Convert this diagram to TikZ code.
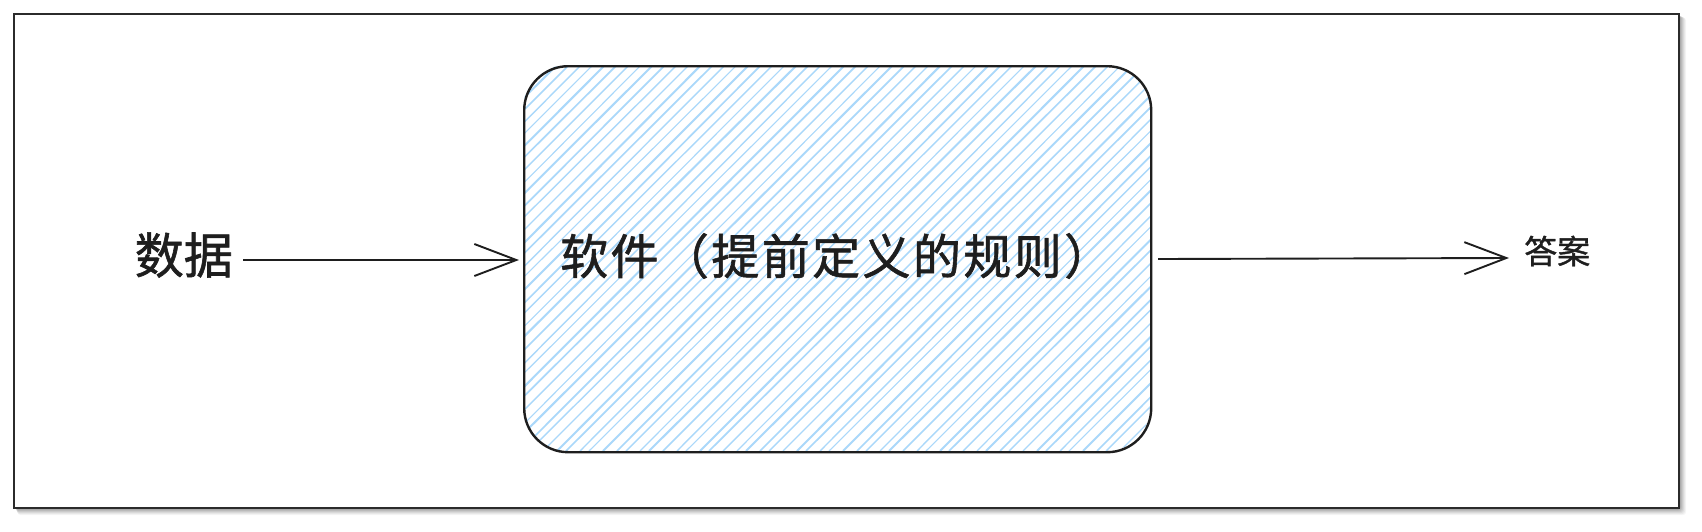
\documentclass[tikz,border=0pt]{standalone}
\usepackage{fontspec}
\newfontfamily\cjk[FakeBold=1.2]{Noto Sans CJK SC}
\newfontfamily\cjkwide[FakeBold=1.2,LetterSpace=5]{Noto Sans CJK SC}
\usetikzlibrary{arrows.meta}
\definecolor{framec}{HTML}{2B2B2B}
\definecolor{hatchc}{RGB}{170,216,250}
\definecolor{inkc}{HTML}{1E1E1E}
\tikzset{
  frame/.style={draw=framec, line width=2pt},
  boxline/.style={draw=inkc, line width=2.4pt, rounded corners=44pt},
  hatch/.style={draw=hatchc, line width=1.6pt},
  conn/.style={draw=inkc, line width=1.9pt, -{Straight Barb[length=42pt, width=32pt, line width=1.9pt]}},
  lbl/.style={font=\cjkwide\fontsize{48}{52}\selectfont, text=inkc, inner sep=0pt},
  lbld/.style={font=\cjk\fontsize{49}{52}\selectfont, text=inkc, inner sep=0pt},
  lbls/.style={font=\cjk\fontsize{33}{36}\selectfont, text=inkc, inner sep=0pt},
}
\begin{document}
\begin{tikzpicture}[x=1pt,y=-1pt]
\useasboundingbox (0,0) rectangle (1702,531);
% shadow
\foreach \o/\op in {7/0.04,6/0.05,5/0.06,4/0.07,3/0.08,2/0.09}{
  \fill[black, opacity=\op, rounded corners=3pt] (14+\o*0.5,14+\o*0.5) rectangle (1679+\o,508+\o);
}
\fill[white] (14,14) rectangle (1679,508);
\draw[frame] (14,14) rectangle (1679,508);
% hatched box
\begin{scope}
  \clip[rounded corners=44pt] (523,65) rectangle (1150,451);
  \foreach \k [count=\i] in {0,12,...,1100}{
    \pgfmathsetmacro{\jit}{mod(\i*7,5)-2}
    \pgfmathsetmacro{\lw}{1.1+0.3*mod(\i*3,4)}
    \draw[hatch, line width=\lw pt] (523+\k+\jit-400,451) -- (523+\k,51);
  }
\end{scope}
\node[boxline, minimum width=627pt, minimum height=386pt, anchor=north west] (box) at (523,65) {};
\node[lbl, anchor=west] (soft) at (560,256) {软件（提前定义的规则）};
\node[lbld, anchor=east] (data) at (233,255) {数据};
\node[lbls, anchor=west] (ans) at (1524,251) {答案};
\coordinate (in1) at (243,260);
\coordinate (in2) at (519,260);
\coordinate (out1) at (1158,259);
\coordinate (out2) at (1509,258);
\draw[conn] (in1) -- (in2);
\draw[conn] (out1) -- (out2);
\end{tikzpicture}
\end{document}
